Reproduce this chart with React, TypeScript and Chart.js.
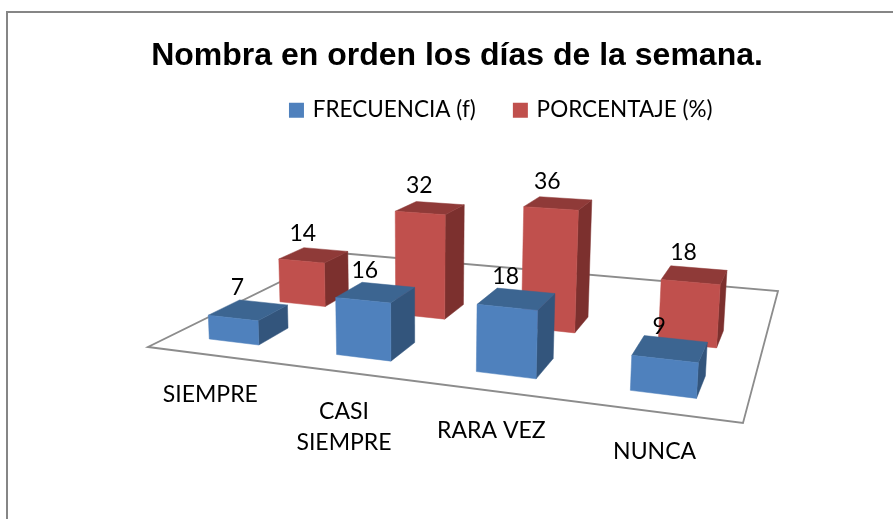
import React, { useEffect, useRef } from "react";
import { Chart, BarController, registerables } from "chart.js";

const titleText = "Nombra en orden los días de la semana.";
const categories = ["SIEMPRE", ["CASI", "SIEMPRE"], "RARA VEZ", "NUNCA"];
const seriesNames = ["FRECUENCIA (f)", "PORCENTAJE (%)"];
const frecuencia = [7, 16, 18, 9];
const porcentaje = [14, 32, 36, 18];

const FRONT = ["#4F81BD", "#C0504D"];
const TOP = ["#3C6591", "#8F3A38"];
const SIDE = ["#33557C", "#7C302E"];

// Perspective floor: front-left, front-right, back-right, back-left
const FLOOR = [[148, 347], [743, 423], [778, 291], [339, 253]];
const DEPTH_BANDS = [[0.1, 0.24], [0.44, 0.58]];
const VANISH = [420, 5500];
const UNIT_K = 0.00067;
const Y_MAX = 40;
const FONT = "Lato";

function makeProjector() {
  const [[x0, y0], [x1, y1], [x2, y2], [x3, y3]] = FLOOR;
  const dx1 = x1 - x2, dx2 = x3 - x2, sx = x0 - x1 + x2 - x3;
  const dy1 = y1 - y2, dy2 = y3 - y2, sy = y0 - y1 + y2 - y3;
  const den = dx1 * dy2 - dx2 * dy1;
  const g = (sx * dy2 - dx2 * sy) / den;
  const h = (dx1 * sy - sx * dy1) / den;
  const a = x1 - x0 + g * x1, b = x3 - x0 + h * x3;
  const d = y1 - y0 + g * y1, e = y3 - y0 + h * y3;
  return (u: number, v: number, units = 0) => {
    const k = -units * UNIT_K;
    const w = g * u + h * v + 1 + k;
    return [(a * u + b * v + x0 + k * VANISH[0]) / w, (d * u + e * v + y0 + k * VANISH[1]) / w];
  };
}
const project = makeProjector();

function boxGeometry(chart: any, el: any, dsIndex: number) {
  const area = chart.chartArea;
  const u0 = (el.x - el.width / 2 - area.left) / area.width;
  const u1 = (el.x + el.width / 2 - area.left) / area.width;
  const [v0, v1] = DEPTH_BANDS[dsIndex];
  const units = ((el.base - el.y) / area.height) * Y_MAX;
  return { u0, u1, v0, v1, units };
}

function poly(ctx: CanvasRenderingContext2D, pts: number[][], color: string) {
  ctx.beginPath();
  pts.forEach((p, i) => (i ? ctx.lineTo(p[0], p[1]) : ctx.moveTo(p[0], p[1])));
  ctx.closePath();
  ctx.fillStyle = color;
  ctx.strokeStyle = color;
  ctx.lineWidth = 0.5;
  ctx.fill();
  ctx.stroke();
}

class Bar3DController extends BarController {
  static id = "bar3d";
  static defaults = { ...BarController.defaults };
  static overrides = BarController.overrides;
  draw() {
    const chart: any = this.chart;
    const ctx = chart.ctx;
    const idx = this.index;
    this.getMeta().data.forEach((el: any) => {
      const { u0, u1, v0, v1, units } = boxGeometry(chart, el, idx);
      const fbl = project(u0, v0), fbr = project(u1, v0), bbr = project(u1, v1);
      const ftl = project(u0, v0, units), ftr = project(u1, v0, units);
      const btr = project(u1, v1, units), btl = project(u0, v1, units);
      ctx.save();
      poly(ctx, [fbr, bbr, btr, ftr], SIDE[idx]);
      poly(ctx, [ftl, ftr, btr, btl], TOP[idx]);
      poly(ctx, [fbl, fbr, ftr, ftl], FRONT[idx]);
      ctx.restore();
    });
  }
}

Chart.register(...registerables, Bar3DController);

const scene = {
  id: "scene",
  afterLayout(chart: any) {
    chart.legend.left += 45;
    chart.legend.right += 45;
    chart.legend.top -= 16;
    chart.legend.bottom -= 16;
  },
  beforeDraw(chart: any) {
    const ctx = chart.ctx;
    ctx.save();
    ctx.fillStyle = "#fff";
    ctx.fillRect(0, 0, chart.width, chart.height);
    ctx.strokeStyle = "#868686";
    ctx.lineWidth = 2;
    ctx.beginPath();
    ctx.moveTo(7, chart.height + 2);
    ctx.lineTo(7, 12);
    ctx.lineTo(chart.width + 2, 12);
    ctx.stroke();
    ctx.restore();
  },
  beforeDatasetsDraw(chart: any) {
    const ctx = chart.ctx;
    ctx.save();
    ctx.strokeStyle = "#8C8C8C";
    ctx.lineWidth = 1.8;
    ctx.beginPath();
    FLOOR.forEach((p, i) => (i ? ctx.lineTo(p[0], p[1]) : ctx.moveTo(p[0], p[1])));
    ctx.closePath();
    ctx.stroke();
    ctx.restore();
  },
  afterDatasetsDraw(chart: any) {
    const ctx = chart.ctx;
    const area = chart.chartArea;
    ctx.save();
    ctx.fillStyle = "#000";
    ctx.textAlign = "center";
    ctx.textBaseline = "middle";
    ctx.font = `23px ${FONT}`;
    chart.data.datasets.forEach((ds: any, di: number) => {
      chart.getDatasetMeta(di).data.forEach((el: any, i: number) => {
        const g = boxGeometry(chart, el, di);
        const p = project((g.u0 + g.u1) / 2, (g.v0 + g.v1) / 2, g.units);
        ctx.fillText(String(ds.data[i]), p[0] - 11, p[1] - 22);
      });
    });
    ctx.font = `23px ${FONT}`;
    const xs = chart.scales.x;
    chart.data.labels.forEach((lab: any, i: number) => {
      const u = (xs.getPixelForValue(i) - area.left) / area.width;
      const p = project(u, 0);
      const lines = Array.isArray(lab) ? lab : [lab];
      lines.forEach((t: string, j: number) => ctx.fillText(t, p[0], p[1] + 40 + j * 31));
    });
    ctx.restore();
  },
};

export default function App() {
  const ref = useRef<HTMLCanvasElement>(null);
  useEffect(() => {
    const chart = new Chart(ref.current as any, {
      type: "bar3d" as any,
      data: {
        labels: categories as any,
        datasets: [
          { label: seriesNames[0], data: frecuencia, backgroundColor: FRONT[0], clip: false, grouped: false, categoryPercentage: 0.4, barPercentage: 1 } as any,
          { label: seriesNames[1], data: porcentaje, backgroundColor: FRONT[1], clip: false, grouped: false, categoryPercentage: 0.4, barPercentage: 1 } as any,
        ],
      },
      options: {
        responsive: false,
        animation: false,
        layout: { padding: { left: 130, right: 109, top: 37, bottom: 60 } },
        scales: {
          x: { type: "category", display: false, offset: true },
          y: { type: "linear", display: false, min: 0, max: Y_MAX },
        },
        plugins: {
          tooltip: { enabled: false },
          title: {
            display: true,
            text: titleText,
            color: "#000",
            font: { family: "Liberation Sans", size: 32, weight: "bold" },
            padding: { top: 0, bottom: 0 },
          },
          legend: {
            display: true,
            position: "top",
            labels: {
              color: "#000",
              font: { family: FONT, size: 22.5 },
              boxWidth: 10,
              boxHeight: 10,
              padding: 39.5,
              generateLabels: (c: any) =>
                (Chart as any).defaults.plugins.legend.labels
                  .generateLabels(c)
                  .map((it: any) => ({ ...it, lineWidth: 5, strokeStyle: it.fillStyle })),
            },
          },
        },
      } as any,
      plugins: [scene],
    });
    return () => chart.destroy();
  }, []);
  return (
    <canvas
      ref={ref}
      width={893}
      height={519}
      style={{ position: "absolute", left: 0, top: 0, width: 893, height: 519, display: "block" }}
    />
  );
}
